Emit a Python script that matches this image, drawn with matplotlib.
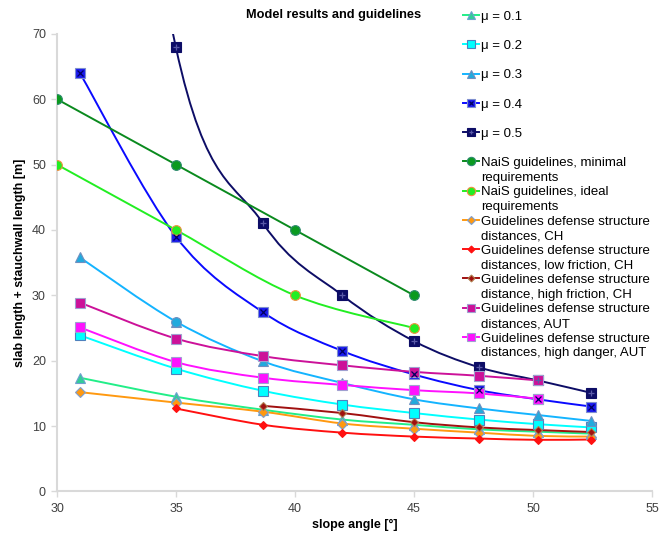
import numpy as np
import matplotlib
matplotlib.use("Agg")
import matplotlib.pyplot as plt
from matplotlib.path import Path
from matplotlib.patches import PathPatch
from matplotlib.lines import Line2D

plt.rcParams['font.family'] = ['Liberation Sans', 'DejaVu Sans']

# slope angles of the model runs (tan = 0.6 ... 1.3)
x_model = [30.96, 34.99, 38.66, 41.99, 45.0, 47.73, 50.19, 52.43]
mu01 = [17.4, 14.5, 12.5, 11.0, 10.2, 9.5, 9.15, 8.85]
mu02 = [23.9, 18.8, 15.4, 13.3, 12.0, 11.0, 10.3, 9.8]
mu03 = [35.8, 26.0, 19.9, 16.6, 14.1, 12.7, 11.7, 10.8]
mu04 = [64.0, 39.0, 27.4, 21.5, 17.9, 15.5, 14.1, 13.0]
mu05 = [170.0, 68.0, 41.0, 30.0, 23.0, 19.0, 17.0, 15.1]

# NaiS guidelines
x_nais = [30, 35, 40, 45]
nais_min = [60, 50, 40, 30]
nais_ideal = [50, 40, 30, 25]

# defense structure guidelines
ch = [15.2, 13.6, 12.2, 10.4, 9.6, 9.0, 8.5, 8.4]
x_low = x_model[1:]
ch_low = [12.7, 10.2, 9.0, 8.4, 8.1, 7.9, 7.95]
x_high = x_model[2:]
ch_high = [13.1, 12.0, 10.6, 9.8, 9.4, 9.1]
x_aut = x_model[:7]
aut = [28.9, 23.4, 20.7, 19.3, 18.3, 17.7, 17.0]
aut_danger = [25.1, 19.8, 17.4, 16.3, 15.5, 15.0, 14.2]

labels = ["μ = 0.1", "μ = 0.2", "μ = 0.3", "μ = 0.4", "μ = 0.5",
          "NaiS guidelines, minimal", "NaiS guidelines, ideal",
          "Guidelines defense structure", "Guidelines defense structure",
          "Guidelines defense structure", "Guidelines defense structure",
          "Guidelines defense structure"]
labels2 = ["", "", "", "", "",
           "requirements", "requirements",
           "distances, CH", "distances, low friction, CH",
           "distance, high friction, CH", "distances, AUT",
           "distances, high danger, AUT"]


def smooth_path(xs, ys):
    # excel-like smoothed line (bezier through the points)
    p = np.column_stack([xs, ys]).astype(float)
    n = len(p)
    verts = [p[0]]
    codes = [Path.MOVETO]
    for i in range(n - 1):
        p0 = p[i - 1] if i > 0 else p[i]
        p3 = p[i + 2] if i + 2 < n else p[i + 1]
        c1 = p[i] + (p[i + 1] - p0) / 6
        c2 = p[i + 1] - (p3 - p[i]) / 6
        verts += [c1, c2, p[i + 1]]
        codes += [Path.CURVE4] * 3
    return Path(verts, codes)


fig = plt.figure(figsize=(6.67, 5.34), dpi=100)
ax = fig.add_axes([0.0855, 0.0796, 0.892, 0.857])

series = [
    # x, y, line colour, marker, face, edge, size, overlay
    (x_model, mu01, '#22ee88', '^', '#33cc99', '#6f9fd0', 7, None),
    (x_model, mu02, '#00ffff', 's', '#00ffff', '#4f81bd', 7, None),
    (x_model, mu03, '#14b4ff', '^', '#22aadd', '#6f8fc0', 7, None),
    (x_model, mu04, '#0a0aff', 's', '#1a1aee', '#7f8fcf', 6.5, ('x', '#000060')),
    (x_model, mu05, '#0d0d66', 's', '#0d0d66', '#0d0d66', 6.5, ('+', '#5a5aa8')),
    (x_nais, nais_min, '#0a8a1e', 'o', '#0a9a20', '#2e8b6e', 7, None),
    (x_nais, nais_ideal, '#22ee22', 'o', '#22ee22', '#f09040', 7, None),
    (x_model, ch, '#ff9910', 'D', '#ff9910', '#7f9fcf', 5, None),
    (x_low, ch_low, '#ff1010', 'D', '#ff1010', '#ff1010', 4.5, None),
    (x_high, ch_high, '#a01010', 'D', '#a01010', '#b08050', 4.5, None),
    (x_aut, aut, '#cc1199', 's', '#cc1199', '#a0a0d0', 7, None),
    (x_aut, aut_danger, '#ff11ff', 's', '#ff11ff', '#a0a0d0', 7, None),
]

handles = []
for xs, ys, col, mk, fc, ec, ms, over in series:
    ax.add_patch(PathPatch(smooth_path(xs, ys), facecolor='none',
                           edgecolor=col, lw=1.4, zorder=2))
    ax.plot(xs, ys, ls='none', marker=mk, ms=ms, mfc=fc, mec=ec, mew=0.8,
            zorder=3)
    h = Line2D([], [], color=col, lw=1.4, marker=mk, ms=ms - 1, mfc=fc,
               mec=ec, mew=0.8)
    if over is not None:
        ax.plot(xs, ys, ls='none', marker=over[0], ms=ms - 2.5,
                mec=over[1], mew=0.9, zorder=4)
        h = (h, Line2D([], [], ls='none', marker=over[0], ms=ms - 3.5,
                       mec=over[1], mew=0.9))
    handles.append(h)

# the μ = 0.3 point at 35° has a round marker
ax.plot(x_model[1], mu03[1], ls='none', marker='o', ms=7, mfc='#22aadd',
        mec='#6f8fc0', mew=0.8, zorder=4)

ax.set_xlim(30, 55)
ax.set_ylim(0, 70)
ax.set_xticks([30, 35, 40, 45, 50, 55])
ax.set_yticks(range(0, 71, 10))
for s in ['top', 'right']:
    ax.spines[s].set_visible(False)
for s in ['left', 'bottom']:
    ax.spines[s].set_color('#d9d9d9')
    ax.spines[s].set_linewidth(1.5)
ax.tick_params(length=4, width=1, color='#d9d9d9', labelsize=9,
               labelcolor='#404040', pad=4)

ax.set_xlabel('slope angle [°]', fontsize=9, fontweight='bold', labelpad=3)
ax.set_ylabel('slab length + stauchwall length [m]', fontsize=9,
              fontweight='bold', labelpad=4)
fig.text(0.5, 0.971, 'Model results and guidelines', ha='center',
         va='center', fontsize=9.2, fontweight='bold')

leg = ax.legend(handles, labels, loc='upper left', frameon=False,
                bbox_to_anchor=(463 / 667, 1 - 10.5 / 534),
                bbox_transform=fig.transFigure, fontsize=9.5, borderpad=0,
                borderaxespad=0, handlelength=1.2, handletextpad=0.15,
                labelspacing=1.29, numpoints=1)

# second lines of the two-line legend entries
fig.canvas.draw()
for t, extra in zip(leg.get_texts(), labels2):
    if extra:
        bb = t.get_window_extent()
        fig.text(bb.x0 / fig.bbox.width, (bb.y0 - 14.7) / fig.bbox.height,
                 extra, fontsize=9.5, ha='left', va='bottom')

fig.savefig('out.png', dpi=100)
